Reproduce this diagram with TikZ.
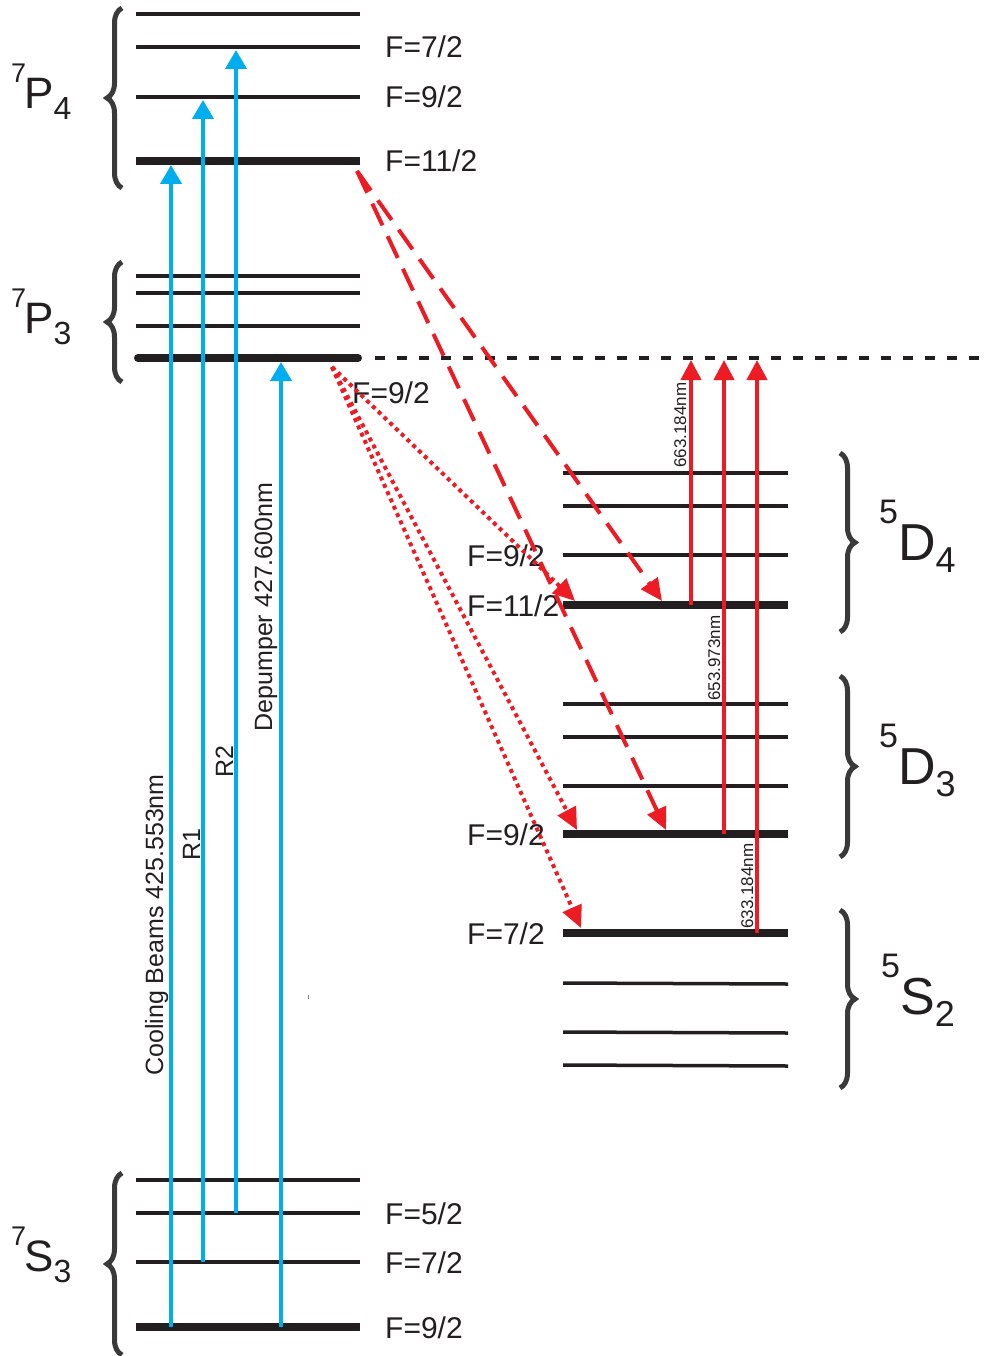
\documentclass[tikz,border=0pt]{standalone}
\usepackage{fontspec}
\setmainfont{Liberation Sans}
\usetikzlibrary{decorations.pathreplacing,arrows.meta}
\definecolor{ink}{HTML}{231F20}
\definecolor{cyanb}{HTML}{00AEEF}
\definecolor{redl}{HTML}{ED1C24}
\definecolor{brc}{HTML}{3A3A3A}
\newcommand\termL[3]{{\fontsize{27}{27}\selectfont\raisebox{26pt}{#1}}\kern-2pt{\fontsize{44}{44}\selectfont #2}{\fontsize{32}{32}\selectfont\raisebox{-11pt}{#3}}}
\newcommand\termR[3]{{\fontsize{34}{34}\selectfont\raisebox{37pt}{#1}}{\fontsize{52}{52}\selectfont #2}{\fontsize{36}{36}\selectfont\raisebox{-12pt}{#3}}}
\begin{document}
\begin{tikzpicture}[x=1pt,y=-1pt,
  thinlvl/.style={draw=ink,line width=3.5pt},
  thicklvl/.style={draw=ink,line width=8pt},
  flabel/.style={anchor=base west,inner sep=0pt,text=ink,font=\fontsize{30}{30}\selectfont},
  bluearrow/.style={draw=cyanb,line width=4pt,-{Triangle[length=19pt,width=21pt]}},
  redarrow/.style={draw=redl,line width=4pt,-{Triangle[length=20pt,width=20pt]}},
  reddash/.style={draw=redl,line width=4pt,dash pattern=on 24pt off 12pt,-{Triangle[length=22pt,width=20pt]}},
  reddot/.style={draw=redl,line width=4pt,dash pattern=on 4pt off 4pt,-{Triangle[length=22pt,width=20pt]}},
  bluelabel/.style={rotate=90,anchor=base,inner sep=0pt,text=ink,font=\fontsize{25}{25}\selectfont},
  redlabel/.style={rotate=90,anchor=base,inner sep=0pt,text=ink,font=\fontsize{17}{17}\selectfont},
  termlabel/.style={anchor=base west,inner sep=0pt,text=ink},
  bracestyle/.style={draw=brc,line width=5pt,decorate,decoration={brace,amplitude=15pt,aspect=0.5}}]
\useasboundingbox (0,0) rectangle (984,1356);
\fill[white] (0,0) rectangle (984,1356);

% ---- left levels: 7P4
\draw[thinlvl] (136,14) -- (360,14);
\draw[thinlvl] (136,47) -- (360,47);
\draw[thinlvl] (136,97) -- (360,97);
\draw[thicklvl] (136,161) -- (360,161);
% 7P3
\draw[thinlvl] (136,276) -- (360,276);
\draw[thinlvl] (136,293) -- (360,293);
\draw[thinlvl] (136,326) -- (360,326);
\draw[thicklvl,line cap=round] (138,358) -- (358,358);
\draw[draw=ink,line width=4pt,dash pattern=on 10pt off 12pt] (375,358) -- (984,358);
% 7S3
\draw[thinlvl] (136,1180) -- (360,1180);
\draw[thinlvl] (136,1213) -- (360,1213);
\draw[thinlvl] (136,1262) -- (360,1262);
\draw[thicklvl] (136,1327) -- (360,1327);

% ---- right levels: 5D4
\draw[thinlvl] (563,473) -- (788,473);
\draw[thinlvl] (563,506) -- (788,506);
\draw[thinlvl] (563,555) -- (788,555);
\draw[thicklvl] (563,605) -- (788,605);
% 5D3
\draw[thinlvl] (563,704) -- (788,704);
\draw[thinlvl] (563,737) -- (788,737);
\draw[thinlvl] (563,786) -- (788,786);
\draw[thicklvl] (563,834) -- (788,834);
% 5S2
\draw[thicklvl] (563,933) -- (788,933);
\draw[thinlvl] (563,983) -- (788,984);
\draw[thinlvl] (563,1032) -- (788,1033);
\draw[thinlvl] (563,1065) -- (788,1066);

% ---- braces
\draw[bracestyle] (122,188) -- (122,8);
\draw[bracestyle] (122,382) -- (122,262);
\draw[bracestyle] (122,1355) -- (122,1173);
\draw[bracestyle] (840,453) -- (840,632);
\draw[bracestyle] (840,676) -- (840,857);
\draw[bracestyle] (840,910) -- (840,1088);

% ---- term labels
\node[termlabel] (tP4) at (11,109) {\termL{7}{P}{4}};
\node[termlabel] (tP3) at (11,333) {\termL{7}{P}{3}};
\node[termlabel] (tS3) at (11,1271) {\termL{7}{S}{3}};
\node[termlabel] (tD4) at (879,560) {\termR{5}{D}{4}};
\node[termlabel] (tD3) at (879,784) {\termR{5}{D}{3}};
\node[termlabel] (tS2) at (881,1014) {\termR{5}{S}{2}};

% ---- F labels
\node[flabel] (fa) at (385,58) {F=7/2};
\node[flabel] (fb) at (385,108) {F=9/2};
\node[flabel] (fc) at (385,172) {F=11/2};
\node[flabel] (fd) at (385,1224) {F=5/2};
\node[flabel] (fe) at (385,1273) {F=7/2};
\node[flabel] (ff) at (385,1338) {F=9/2};
\node[flabel] (fg) at (352,403) {F=9/2};
\node[flabel] (fh) at (467,566) {F=9/2};
\node[flabel] (fi) at (467,616) {F=11/2};
\node[flabel] (fj) at (467,845) {F=9/2};
\node[flabel] (fk) at (467,944) {F=7/2};

% ---- coordinates
\coordinate (cb0) at (171,1327); \coordinate (cb1) at (171,165);
\coordinate (r1a) at (203,1262); \coordinate (r1b) at (203,100);
\coordinate (r2a) at (236,1213); \coordinate (r2b) at (236,50);
\coordinate (dpa) at (281,1327); \coordinate (dpb) at (281,362);
\coordinate (v1a) at (691,605); \coordinate (v1b) at (691,360);
\coordinate (v2a) at (724,834); \coordinate (v2b) at (724,360);
\coordinate (v3a) at (757,933); \coordinate (v3b) at (757,360);
\coordinate (p4) at (357,171);
\coordinate (d4e) at (662,601); \coordinate (d3e) at (666,830);
\coordinate (p3) at (332,367);
\coordinate (t1) at (575,601); \coordinate (t2) at (577,830); \coordinate (t3) at (581,928);

% ---- blue arrows
\draw[bluearrow] (cb0) -- (cb1);
\draw[bluearrow] (r1a) -- (r1b);
\draw[bluearrow] (r2a) -- (r2b);
\draw[bluearrow] (dpa) -- (dpb);
\node[bluelabel] (lcb) at (163,925) {Cooling Beams 425.553nm};
\node[bluelabel] (lr1) at (200,845) {R1};
\node[bluelabel] (lr2) at (233,762) {R2};
\node[bluelabel] (ldp) at (272,607) {Depumper 427.600nm};

% ---- red arrows
\draw[redarrow] (v1a) -- (v1b);
\draw[redarrow] (v2a) -- (v2b);
\draw[redarrow] (v3a) -- (v3b);
\node[redlabel] (l1) at (686,425) {663.184nm};
\node[redlabel] (l2) at (720,658) {653.973nm};
\node[redlabel] (l3) at (753,886) {633.184nm};

\draw[reddash] (p4) -- (d4e);
\draw[reddash] (p4) -- (d3e);
\draw[reddot] (p3) -- (t1);
\draw[reddot] (p3) -- (t2);
\draw[reddot] (p3) -- (t3);

% speck
\draw[draw=gray,line width=1pt] (308,995) -- (308,999);
\end{tikzpicture}
\end{document}
